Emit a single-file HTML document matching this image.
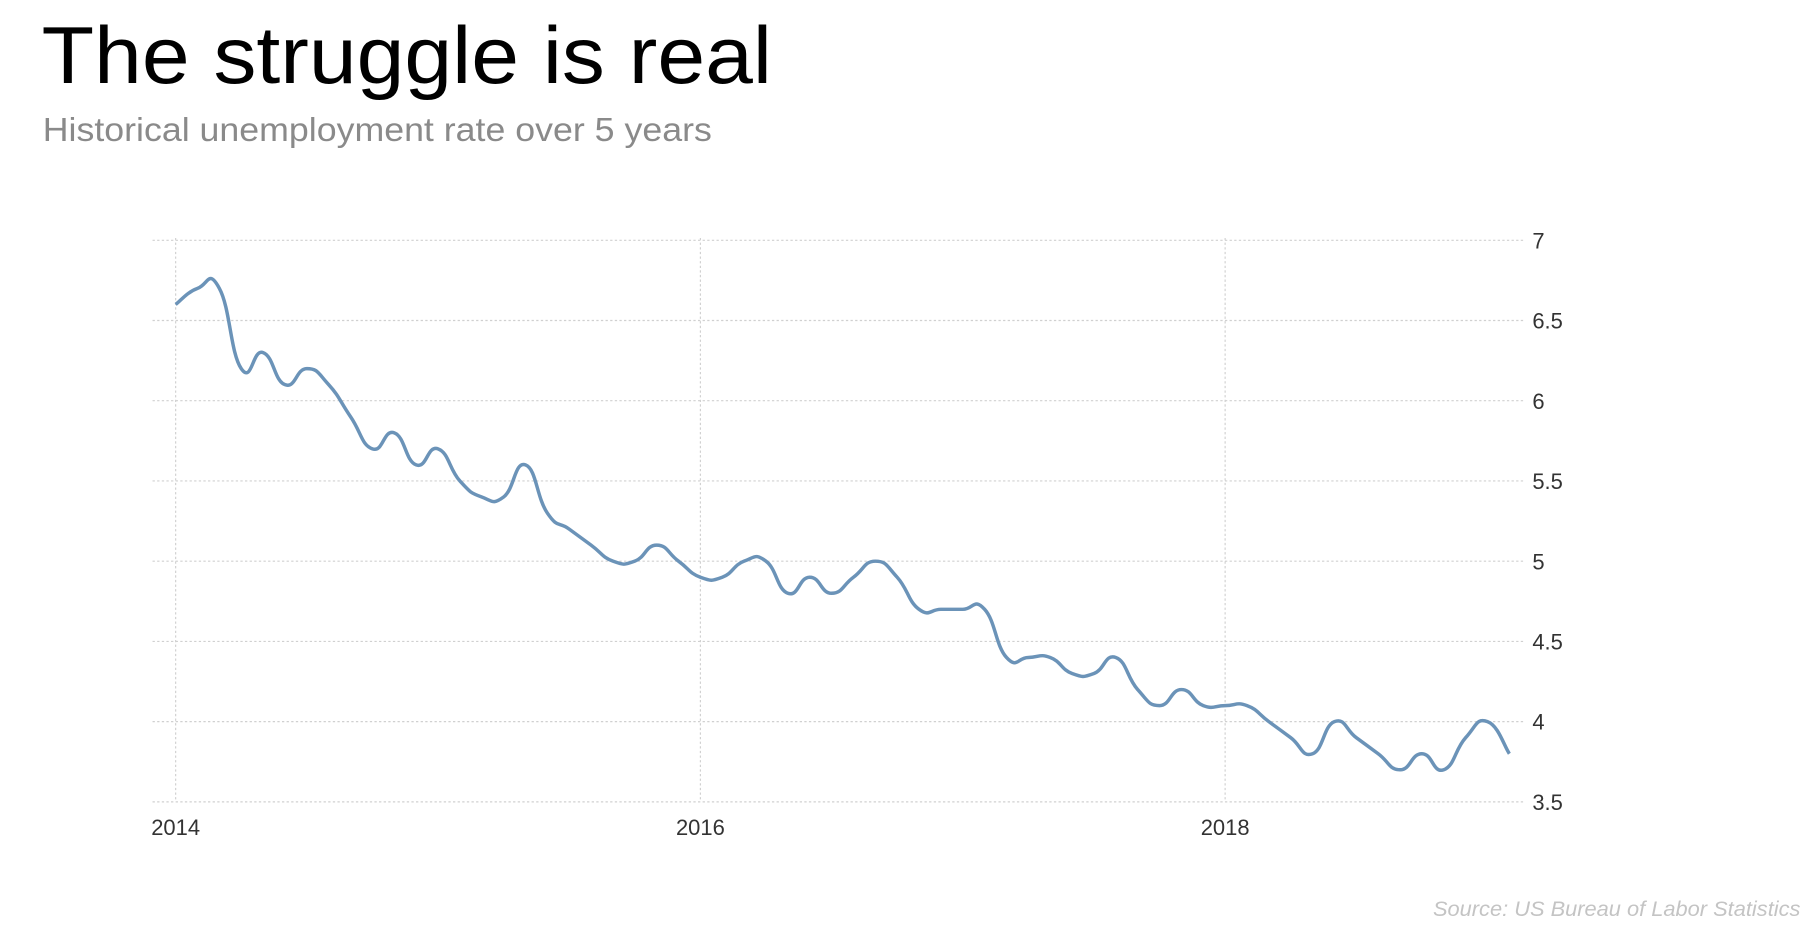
<!DOCTYPE html>
<html><head><meta charset="utf-8"><style>
html,body{margin:0;padding:0;background:#fff;width:1812px;height:938px;overflow:hidden}
svg{display:block}
</style></head><body>
<svg id="s" width="1812" height="938" viewBox="0 0 1568 812" preserveAspectRatio="none" xmlns="http://www.w3.org/2000/svg">
<text x="36" y="72" font-family="Liberation Sans, sans-serif" font-size="70" fill="#000" textLength="632" lengthAdjust="spacingAndGlyphs">The struggle is real</text>
<text x="37" y="122" font-family="Liberation Sans, sans-serif" font-size="29" fill="#8a8a8a" textLength="579" lengthAdjust="spacingAndGlyphs">Historical unemployment rate over 5 years</text>
<g id="grid" stroke="#d0d0d0" stroke-width="1" stroke-dasharray="2,2" fill="none"></g>
<g id="labels" font-family="Liberation Sans, sans-serif" font-size="19" fill="#333"></g>
<path id="line" fill="none" stroke="#6b93b8" stroke-width="3" stroke-linejoin="round"/>
<text x="1558" y="793" text-anchor="end" font-family="Liberation Sans, sans-serif" font-style="italic" font-size="18" fill="#c4c4c4" textLength="318" lengthAdjust="spacingAndGlyphs">Source: US Bureau of Labor Statistics</text>
</svg>
<script>
var ns="http://www.w3.org/2000/svg";
function yv(v){return 208+(7-v)*138.9;}
function xm(m){return 152+m*18.92;}
var g=document.getElementById('grid'),L=document.getElementById('labels');
function el(p,t,a,txt){var e=document.createElementNS(ns,t);for(var k in a)e.setAttribute(k,a[k]);if(txt)e.textContent=txt;p.appendChild(e);}
[7,6.5,6,5.5,5,4.5,4,3.5].forEach(function(v){var y=yv(v);el(g,'line',{x1:132,x2:1318,y1:y,y2:y});el(L,'text',{x:1326,y:y+7},String(v));});
[[0,'2014'],[24,'2016'],[48,'2018']].forEach(function(a){var x=xm(a[0]);el(g,'line',{x1:x,x2:x,y1:206,y2:694});el(L,'text',{x:x,y:723,'text-anchor':'middle'},a[1]);});
var d=[6.6,6.7,6.7,6.2,6.3,6.1,6.2,6.1,5.9,5.7,5.8,5.6,
5.7,5.5,5.4,5.4,5.6,5.3,5.2,5.1,5.0,5.0,5.1,5.0,
4.9,4.9,5.0,5.0,4.8,4.9,4.8,4.9,5.0,4.9,4.7,4.7,
4.7,4.7,4.4,4.4,4.4,4.3,4.3,4.4,4.2,4.1,4.2,4.1,
4.1,4.1,4.0,3.9,3.8,4.0,3.9,3.8,3.7,3.8,3.7,3.9,
4.0,3.8];
var p=d.map(function(v,i){return [xm(i),yv(v)];});
var s="M"+p[0][0]+","+p[0][1];
for(var i=0;i<p.length-1;i++){var p0=p[i-1]||p[i],p1=p[i],p2=p[i+1],p3=p[i+2]||p2;var t=0.3;
s+=" C"+(p1[0]+(p2[0]-p0[0])*t/1.2)+","+(p1[1]+(p2[1]-p0[1])*t/1.2)+" "+(p2[0]-(p3[0]-p1[0])*t/1.2)+","+(p2[1]-(p3[1]-p1[1])*t/1.2)+" "+p2[0]+","+p2[1];}
document.getElementById('line').setAttribute('d',s);
</script>
</body></html>
